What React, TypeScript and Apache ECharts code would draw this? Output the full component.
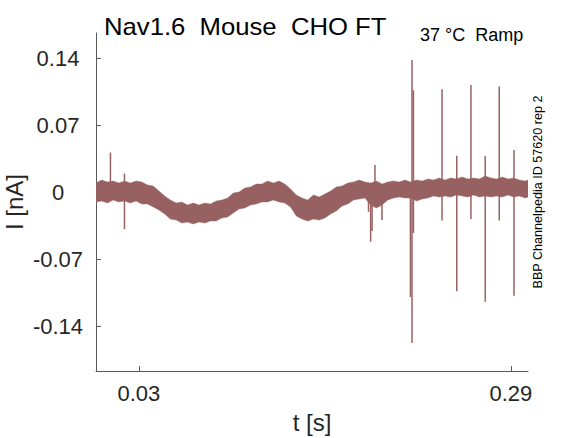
import React, { useEffect, useRef } from "react";
import * as echarts from "echarts";

// ---- data ----
const TITLE = "Nav1.6  Mouse  CHO FT";
const SUBTITLE = "37 °C  Ramp";
const SIDE_NOTE = "BBP Channelpedia ID 57620 rep 2";
const X_NAME = "t [s]";
const Y_NAME = "I [nA]";

const xTicks = [0.03, 0.29];
const yTicks = [-0.14, -0.07, 0, 0.07, 0.14];

// noisy trace envelope (s, nA)
const bandTimes = [
  0.0, 0.004, 0.008, 0.012, 0.016, 0.02, 0.024, 0.028, 0.032, 0.036,
  0.04, 0.044, 0.048, 0.052, 0.056, 0.06, 0.064, 0.068, 0.072, 0.076,
  0.08, 0.084, 0.088, 0.092, 0.096, 0.1, 0.104, 0.108, 0.112, 0.116,
  0.12, 0.124, 0.128, 0.132, 0.136, 0.14, 0.144, 0.148, 0.152, 0.156,
  0.16, 0.164, 0.168, 0.172, 0.176, 0.18, 0.184, 0.188, 0.192, 0.196,
  0.2, 0.204, 0.208, 0.212, 0.216, 0.22, 0.224, 0.228, 0.232, 0.236,
  0.24, 0.244, 0.248, 0.252, 0.256, 0.26, 0.264, 0.268, 0.272, 0.276,
  0.28, 0.284, 0.288, 0.292, 0.296, 0.3, 0.302,
];
const bandUpper = [
  0.0101, 0.0133, 0.0112, 0.0122, 0.0101, 0.0122, 0.0101, 0.0122, 0.0112, 0.008,
  0.007, 0.0018, -0.0034, -0.0076, -0.0108, -0.0097, -0.0129, -0.0108, -0.0129, -0.0108,
  -0.0118, -0.0087, -0.0076, -0.0055, -0.0003, 0.0007, 0.0049, 0.006, 0.0091, 0.0091,
  0.0122, 0.0101, 0.0122, 0.0091, 0.0039, -0.0024, -0.0055, -0.0076, -0.0024, -0.0045,
  -0.0014, 0.0018, 0.006, 0.007, 0.0101, 0.0112, 0.0133, 0.0112, 0.0101, 0.0122,
  0.0091, 0.0112, 0.0122, 0.0112, 0.0133, 0.0112, 0.0133, 0.0122, 0.0143, 0.0133,
  0.0154, 0.0133, 0.0154, 0.0143, 0.0164, 0.0143, 0.0154, 0.0143, 0.0175, 0.0154,
  0.0143, 0.0164, 0.0143, 0.0154, 0.0133, 0.0122, 0.0133,
];
const bandLower = [
  -0.0097, -0.0087, -0.0108, -0.0076, -0.0097, -0.0087, -0.0108, -0.0087, -0.0118, -0.0118,
  -0.0149, -0.0181, -0.0223, -0.0275, -0.0285, -0.0317, -0.0306, -0.0327, -0.0306, -0.0317,
  -0.0296, -0.0296, -0.0264, -0.0254, -0.0212, -0.017, -0.016, -0.0129, -0.0118, -0.0097,
  -0.0097, -0.0076, -0.0097, -0.0108, -0.0149, -0.0243, -0.0275, -0.0296, -0.0275, -0.0285,
  -0.0264, -0.0223, -0.0191, -0.0139, -0.0118, -0.0076, -0.0066, -0.0055, -0.0129, -0.016,
  -0.0129, -0.0076, -0.0055, -0.0045, -0.0055, -0.0055, -0.0087, -0.0066, -0.0055, -0.0034,
  -0.0045, -0.0034, -0.0045, -0.0024, -0.0034, -0.0045, -0.0024, -0.0045, -0.0034, -0.0045,
  -0.0034, -0.0045, -0.0024, -0.0045, -0.0034, -0.0055, -0.0045,
];

// transient spikes (s, nA)
const spikeTimes = [
  0.0101, 0.0199, 0.1905, 0.192, 0.193, 0.195, 0.1999, 0.2198, 0.2209, 0.2219,
  0.2419, 0.2522, 0.2621, 0.2721, 0.2819, 0.2922,
];
const spikeTop = [
  0.042, 0.02, 0.005, 0.0, 0.002, 0.029, 0.0, 0.005, 0.1387, 0.107,
  0.108, 0.0387, 0.1125, 0.0383, 0.111, 0.0446,
];
const spikeBottom = [
  0.0, -0.038, -0.02, -0.0512, -0.04, -0.006, -0.0285, -0.109, -0.157, -0.042,
  -0.029, -0.103, -0.0275, -0.114, -0.029, -0.1076,
];

const X_MIN = 0;
const X_MAX = 0.302;
const Y_MIN = -0.1863;
const Y_MAX = 0.1669;

const TRACE = "#986161";
const INK = "#262626";
const AXIS = "#5a5a5a";
const FONT = "'Liberation Sans', Arial, Helvetica, sans-serif";

export default function App() {
  const ref = useRef<HTMLDivElement>(null);

  useEffect(() => {
    if (!ref.current) return;
    const chart = echarts.init(ref.current, undefined, { renderer: "svg" });

    const bandData = bandTimes.map((t, i) => [t, bandLower[i], bandUpper[i]]);
    const spikeData = spikeTimes.map((t, i) => [t, spikeBottom[i], spikeTop[i]]);

    chart.setOption({
      animation: false,
      backgroundColor: "#ffffff",
      grid: {
        left: 96,
        right: 55,
        top: 33,
        bottom: 67,
        containLabel: false,
        outerBoundsMode: "none",
      },
      xAxis: {
        type: "value",
        min: X_MIN,
        max: X_MAX,
        name: X_NAME,
        nameLocation: "middle",
        nameGap: 39,
        nameMoveOverlap: false,
        nameTextStyle: { fontSize: 24, color: INK, fontFamily: FONT },
        axisLine: { show: true, onZero: false, lineStyle: { color: AXIS, width: 1 } },
        axisTick: { show: true, inside: true, length: 5, customValues: xTicks, lineStyle: { color: AXIS } },
        axisLabel: {
          customValues: xTicks,
          margin: 11,
          fontSize: 22,
          color: INK,
          fontFamily: FONT,
          formatter: (v: number) => String(v),
        },
        splitLine: { show: false },
      },
      yAxis: {
        type: "value",
        min: Y_MIN,
        max: Y_MAX,
        name: Y_NAME,
        nameLocation: "middle",
        nameGap: 70,
        nameMoveOverlap: false,
        nameRotate: 90,
        nameTextStyle: { fontSize: 24, color: INK, fontFamily: FONT },
        axisLine: { show: true, onZero: false, lineStyle: { color: AXIS, width: 1 } },
        axisTick: { show: true, inside: true, length: 5, customValues: yTicks, lineStyle: { color: AXIS } },
        axisLabel: {
          customValues: yTicks,
          margin: 38,
          align: "center",
          fontSize: 22,
          color: INK,
          fontFamily: FONT,
          formatter: (v: number) => String(v),
        },
        splitLine: { show: false },
      },
      graphic: [
        {
          type: "text",
          x: 104,
          y: 27,
          scaleX: 1.07,
          originX: 0,
          originY: 0,
          style: {
            text: TITLE,
            fill: "#000000",
            fontSize: 24,
            fontFamily: FONT,
            textAlign: "left",
            textVerticalAlign: "middle",
            align: "left",
            verticalAlign: "middle",
          },
        },
        {
          type: "text",
          x: 420,
          y: 34.5,
          style: {
            text: SUBTITLE,
            fill: "#000000",
            fontSize: 18,
            fontFamily: FONT,
            textAlign: "left",
            textVerticalAlign: "middle",
            align: "left",
            verticalAlign: "middle",
          },
        },
        {
          type: "text",
          x: 538,
          y: 192,
          rotation: Math.PI / 2,
          style: {
            text: SIDE_NOTE,
            fill: "#000000",
            fontSize: 12.6,
            fontFamily: FONT,
            textAlign: "center",
            textVerticalAlign: "middle",
            align: "center",
            verticalAlign: "middle",
          },
        },
      ],
      series: [
        {
          type: "custom",
          name: "band",
          clip: true,
          data: [0],
          renderItem: (params: any, api: any) => {
            const pts: number[][] = [];
            for (let i = 0; i < bandData.length; i++) {
              pts.push(api.coord([bandData[i][0], bandData[i][2]]));
            }
            for (let i = bandData.length - 1; i >= 0; i--) {
              pts.push(api.coord([bandData[i][0], bandData[i][1]]));
            }
            return {
              type: "polygon",
              shape: { points: pts },
              style: { fill: TRACE, stroke: TRACE, lineWidth: 0.4 },
            };
          },
          z: 2,
        },
        {
          type: "custom",
          name: "spikes",
          clip: true,
          data: spikeData,
          encode: { x: 0, y: [1, 2] },
          renderItem: (params: any, api: any) => {
            const a = api.coord([api.value(0), api.value(1)]);
            const b = api.coord([api.value(0), api.value(2)]);
            return {
              type: "line",
              shape: { x1: a[0], y1: a[1], x2: b[0], y2: b[1] },
              style: { stroke: TRACE, lineWidth: 1.5 },
            };
          },
          z: 3,
        },
      ],
    });

    return () => chart.dispose();
  }, []);

  return (
    <div
      ref={ref}
      style={{ position: "fixed", left: 0, top: 0, width: 583, height: 438, background: "#fff" }}
    />
  );
}
